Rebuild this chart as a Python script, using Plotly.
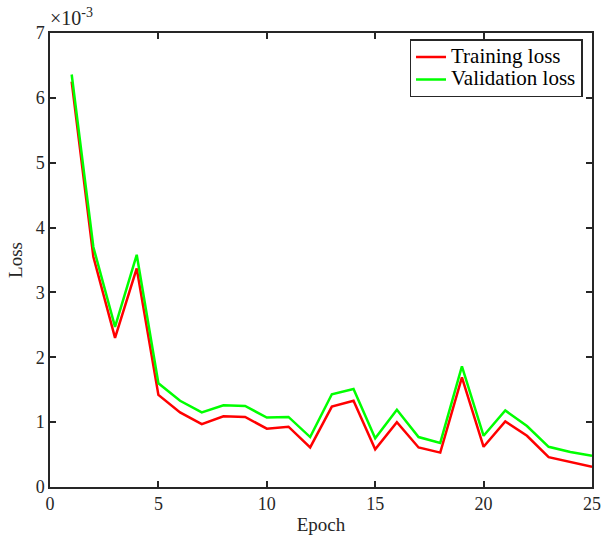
import plotly.graph_objects as go

epochs = list(range(1, 26))
train_loss = [6.25e-3, 3.55e-3, 2.30e-3, 3.37e-3, 1.42e-3, 1.15e-3, 0.97e-3, 1.09e-3, 1.08e-3, 0.90e-3,
              0.93e-3, 0.61e-3, 1.24e-3, 1.33e-3, 0.58e-3, 1.00e-3, 0.61e-3, 0.53e-3, 1.69e-3, 0.62e-3,
              1.01e-3, 0.79e-3, 0.46e-3, 0.38e-3, 0.31e-3]
val_loss = [6.36e-3, 3.70e-3, 2.47e-3, 3.58e-3, 1.60e-3, 1.33e-3, 1.15e-3, 1.26e-3, 1.25e-3, 1.07e-3,
            1.08e-3, 0.77e-3, 1.43e-3, 1.51e-3, 0.75e-3, 1.19e-3, 0.77e-3, 0.68e-3, 1.86e-3, 0.79e-3,
            1.18e-3, 0.94e-3, 0.62e-3, 0.54e-3, 0.48e-3]
x_ticks = [0, 5, 10, 15, 20, 25]
y_ticks = [0, 1e-3, 2e-3, 3e-3, 4e-3, 5e-3, 6e-3, 7e-3]
y_ticktext = ["0", "1", "2", "3", "4", "5", "6", "7"]

FONT = "Liberation Serif"
AX = "#262626"

def legend_label(s):
    return '<span style="font-size:21px">' + s + '</span>'

fig = go.Figure()
fig.add_trace(go.Scatter(x=epochs, y=train_loss, mode="lines", name=legend_label("Training loss"),
                         line=dict(color="#ff0000", width=2.5)))
fig.add_trace(go.Scatter(x=epochs, y=val_loss, mode="lines", name=legend_label("Validation loss"),
                         line=dict(color="#00ff00", width=2.5)))

axis_common = dict(showline=True, linecolor=AX, linewidth=1.5, mirror="ticks",
                   ticks="inside", ticklen=6, tickwidth=1.5, tickcolor=AX,
                   showgrid=False, zeroline=False, automargin=False,
                   tickfont=dict(family=FONT, size=18, color="#262626"))

fig.update_layout(
    width=602, height=539,
    margin=dict(l=50, r=10, t=33, b=52),
    paper_bgcolor="white", plot_bgcolor="white",
    font=dict(family=FONT, size=16, color="#262626"),
    xaxis=dict(range=[0, 25], tickvals=x_ticks,
               title=dict(text="Epoch", font=dict(family=FONT, size=19), standoff=4),
               **axis_common),
    yaxis=dict(range=[0, 7e-3], tickvals=y_ticks, ticktext=y_ticktext,
               title=dict(text="Loss", font=dict(family=FONT, size=19), standoff=8),
               **axis_common),
    legend=dict(x=0.9825, y=0.986, xanchor="right", yanchor="top",
                bordercolor="#262626", borderwidth=1.5, bgcolor="white",
                font=dict(family=FONT, size=15, color="black"),
                tracegroupgap=0, itemwidth=30),
    showlegend=True,
)
fig.add_annotation(x=0, y=1, xref="paper", yref="paper", xanchor="left", yanchor="bottom",
                   text="×10<sup>-3</sup>", showarrow=False, xshift=-2, yshift=2,
                   font=dict(family=FONT, size=20, color="#262626"))

fig.write_html("out.html")
